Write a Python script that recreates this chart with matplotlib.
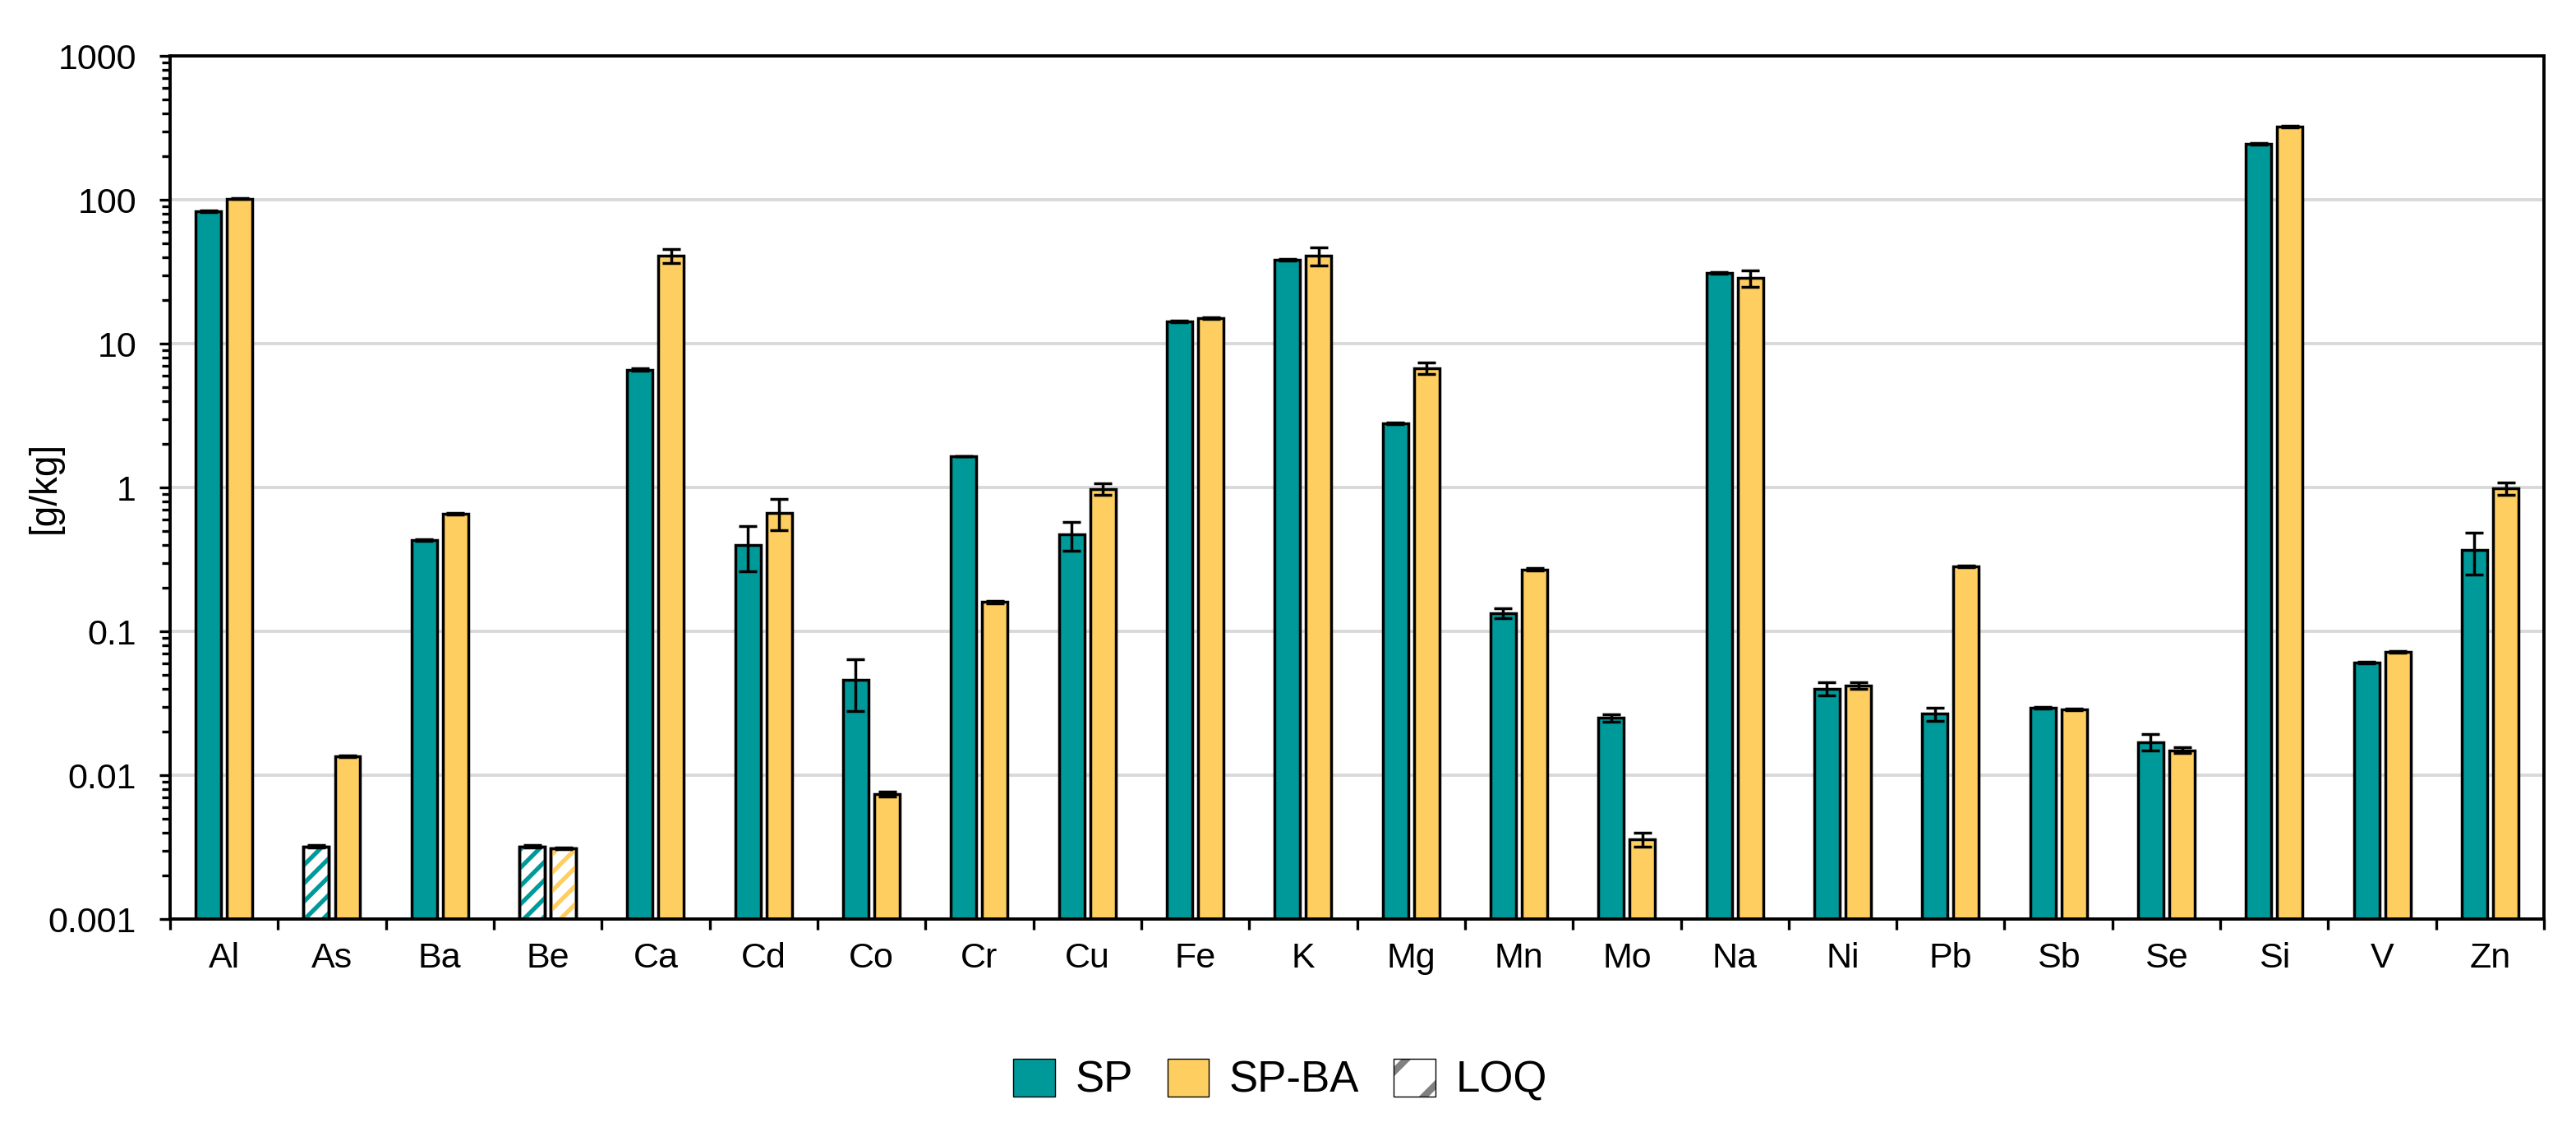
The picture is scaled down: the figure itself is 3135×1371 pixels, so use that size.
import numpy as np
import matplotlib
matplotlib.use("Agg")
import matplotlib.pyplot as plt
from matplotlib.patches import Patch
from matplotlib.ticker import FixedLocator, LogLocator, NullFormatter

plt.rcParams['font.family'] = ['Liberation Sans', 'DejaVu Sans']
plt.rcParams['hatch.linewidth'] = 1.9

# ---------------- data ----------------
elements = ['Al', 'As', 'Ba', 'Be', 'Ca', 'Cd', 'Co', 'Cr', 'Cu', 'Fe', 'K',
            'Mg', 'Mn', 'Mo', 'Na', 'Ni', 'Pb', 'Sb', 'Se', 'Si', 'V', 'Zn']

sp_values = [83, 0.0032, 0.43, 0.0032, 6.6, 0.40, 0.046, 1.65, 0.47, 14.3, 38.3,
             2.79, 0.134, 0.025, 31.0, 0.040, 0.0267, 0.0295, 0.0170, 245, 0.0607, 0.366]
sp_errors = [1.0, 0.00005, 0.005, 0.00005, 0.1, 0.14, 0.018, 0.01, 0.105, 0.15, 0.4,
             0.03, 0.011, 0.0015, 0.3, 0.0041, 0.0028, 0.0003, 0.0022, 2.0, 0.0006, 0.117]
sp_loq = [False, True, False, True, False, False, False, False, False, False, False,
          False, False, False, False, False, False, False, False, False, False, False]

spba_values = [102, 0.0135, 0.656, 0.0031, 41.0, 0.668, 0.0074, 0.160, 0.975, 15.0, 40.9,
               6.76, 0.270, 0.0036, 28.5, 0.042, 0.283, 0.0287, 0.0149, 323, 0.0716, 0.984]
spba_errors = [1.2, 0.0002, 0.012, 0.00005, 4.5, 0.16, 0.0003, 0.003, 0.09, 0.25, 6.0,
               0.6, 0.005, 0.0004, 3.7, 0.0022, 0.004, 0.0004, 0.0007, 3.0, 0.0009, 0.10]
spba_loq = [False, False, False, True, False, False, False, False, False, False, False,
            False, False, False, False, False, False, False, False, False, False, False]

series_labels = ['SP', 'SP-BA', 'LOQ']
y_ticks = [0.001, 0.01, 0.1, 1, 10, 100, 1000]
y_tick_labels = ['0.001', '0.01', '0.1', '1', '10', '100', '1000']
y_label = '[g/kg]'

# ---------------- style ----------------
c_sp = '#009999'
c_spba = '#FFCE60'
c_loq = '#808080'
edge_lw = 1.25
axis_lw = 1.4
bar_w = 0.235
offset = 0.145

fig = plt.figure(figsize=(3135 / 200, 1371 / 200), dpi=200)
ax = fig.add_axes([0.0660, 0.1845, 0.9216, 0.7659])
ax.set_yscale('log')

x = np.arange(len(elements))
base = 1e-4

for vals, errs, loq, col, sgn in [(sp_values, sp_errors, sp_loq, c_sp, -1),
                                   (spba_values, spba_errors, spba_loq, c_spba, 1)]:
    vals = np.array(vals)
    errs = np.array(errs)
    loq = np.array(loq)
    xpos = x + sgn * offset
    faces = ['white' if l else col for l in loq]
    ax.bar(xpos, vals - base, bottom=base, width=bar_w, color=faces,
           edgecolor='black', linewidth=edge_lw, zorder=2)
    if loq.any():
        ax.bar(xpos[loq], vals[loq] - base, bottom=base, width=bar_w,
               facecolor='none', edgecolor=col, linewidth=0, hatch='///', zorder=2.5)
        ax.bar(xpos[loq], vals[loq] - base, bottom=base, width=bar_w,
               facecolor='none', edgecolor='black', linewidth=edge_lw, zorder=3)
    ax.errorbar(xpos, vals, yerr=errs, fmt='none', ecolor='black',
                elinewidth=1.25, capsize=4.0, capthick=1.25, zorder=4)

ax.set_ylim(0.001, 1000)
ax.set_xlim(-0.5, len(elements) - 0.5)

# grid
ax.yaxis.set_major_locator(FixedLocator(y_ticks))
ax.set_yticklabels(y_tick_labels)
ax.yaxis.set_minor_locator(LogLocator(base=10, subs=np.arange(2, 10)))
ax.yaxis.set_minor_formatter(NullFormatter())
ax.grid(axis='y', which='major', color='#D9D9D9', linewidth=1.4, zorder=0)
ax.set_axisbelow(True)

# x ticks: labels at centers, tick marks at boundaries
ax.set_xticks(x)
ax.set_xticklabels(elements)
ax.set_xticks(np.arange(-0.5, len(elements) + 0.5, 1), minor=True)
ax.tick_params(axis='x', which='major', length=0, pad=10, labelsize=15.5)
ax.tick_params(axis='x', which='minor', length=4.7, width=1.2, direction='out')
ax.tick_params(axis='y', which='major', length=4.7, width=1.2, direction='out',
               pad=10, labelsize=15.5)
ax.tick_params(axis='y', which='minor', length=3.6, width=1.2, direction='out')

for sp in ax.spines.values():
    sp.set_linewidth(axis_lw)
    sp.set_color('black')

ax.set_ylabel(y_label, fontsize=16.5)
ax.yaxis.set_label_coords(-0.045, 0.5)

# legend
plt.rcParams['hatch.linewidth'] = 3.0
h_sp = Patch(facecolor=c_sp, edgecolor='black', linewidth=0.5)
h_spba = Patch(facecolor=c_spba, edgecolor='black', linewidth=0.5)
h_loq_h = Patch(facecolor='white', edgecolor=c_loq, linewidth=0, hatch='/')
h_loq_o = Patch(facecolor='none', edgecolor='black', linewidth=0.5)
fig.legend([h_sp, h_spba, (h_loq_h, h_loq_o)], series_labels,
           loc='center', bbox_to_anchor=(0.497, 0.0416), ncol=3, frameon=False,
           fontsize=19, handlelength=0.95, handleheight=0.95,
           handletextpad=0.47, columnspacing=0.8)

fig.savefig('out.png', dpi=200)
